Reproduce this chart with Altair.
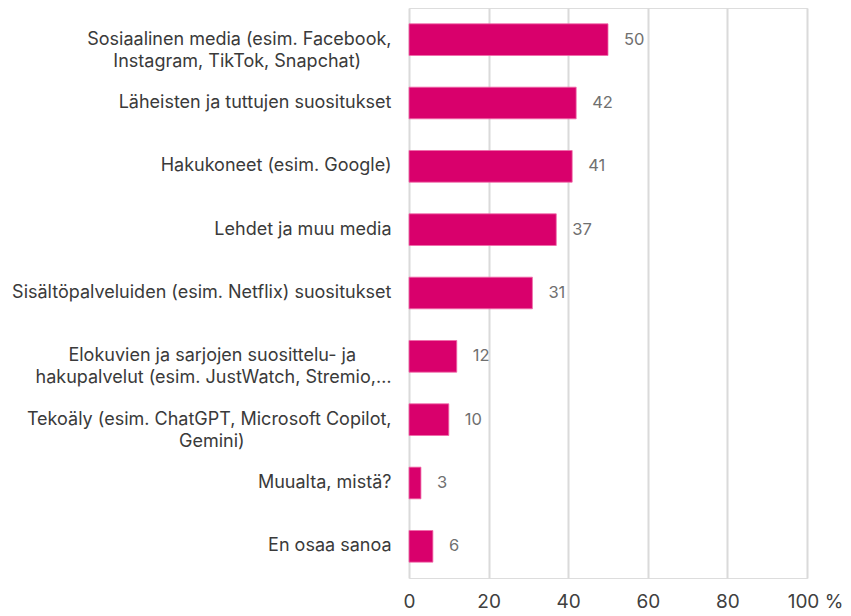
import altair as alt
import pandas as pd

categories = [
    "Sosiaalinen media (esim. Facebook, Instagram, TikTok, Snapchat)",
    "Läheisten ja tuttujen suositukset",
    "Hakukoneet (esim. Google)",
    "Lehdet ja muu media",
    "Sisältöpalveluiden (esim. Netflix) suositukset",
    "Elokuvien ja sarjojen suosittelu- ja hakupalvelut (esim. JustWatch, Stremio,…",
    "Tekoäly (esim. ChatGPT, Microsoft Copilot, Gemini)",
    "Muualta, mistä?",
    "En osaa sanoa",
]
# how the long labels wrap in the reference
wrapped = {
    "Sosiaalinen media (esim. Facebook, Instagram, TikTok, Snapchat)":
        ["Sosiaalinen media (esim. Facebook,", "Instagram, TikTok, Snapchat)"],
    "Elokuvien ja sarjojen suosittelu- ja hakupalvelut (esim. JustWatch, Stremio,…":
        ["Elokuvien ja sarjojen suosittelu- ja", "hakupalvelut (esim. JustWatch, Stremio,…"],
    "Tekoäly (esim. ChatGPT, Microsoft Copilot, Gemini)":
        ["Tekoäly (esim. ChatGPT, Microsoft Copilot,", "Gemini)"],
}
values = [50, 42, 41, 37, 31, 12, 10, 3, 6]
x_ticks = [0, 20, 40, 60, 80, 100]

df = pd.DataFrame({"category": categories, "value": values})

FONT = "Inter"
NB = "\u00a0"
ZW = "\u200b"
# trailing no-break spaces so that the wrapped lines look centred under one another
pad_counts = {
    "Sosiaalinen media (esim. Facebook, Instagram, TikTok, Snapchat)": [0, 6],
    "Elokuvien ja sarjojen suosittelu- ja hakupalvelut (esim. JustWatch, Stremio,…": [7, 0],
    "Tekoäly (esim. ChatGPT, Microsoft Copilot, Gemini)": [0, 29],
}


def js_str(s):
    return "'" + s.replace("\\", "\\\\").replace("'", "\\'") + "'"


def padded(line, n):
    return line + (NB * n + ZW if n else "")


expr = "datum.label"
for full, lines in wrapped.items():
    pads = pad_counts[full]
    arr = "[" + ", ".join(js_str(padded(l, p)) for l, p in zip(lines, pads)) + "]"
    expr = f"datum.label == {js_str(full)} ? {arr} : ({expr})"

base = alt.Chart(df).encode(
    y=alt.Y(
        "category:N",
        sort=categories,
        scale=alt.Scale(paddingInner=0.5, paddingOuter=0.25),
        axis=alt.Axis(
            title=None,
            labelExpr=expr,
            labelFontSize=18,
            labelColor="#3a3a3a",
            labelPadding=18,
            labelLimit=0,
            labelLineHeight=22,
            ticks=False,
            domain=False,
            labelFont=FONT,
        ),
    )
)

bars = base.mark_bar(color="#d9006c", stroke="#f06aa8", strokeWidth=0.8).encode(
    x=alt.X(
        "value:Q",
        scale=alt.Scale(domain=[0, 100]),
        axis=alt.Axis(
            values=x_ticks,
            title=None,
            grid=True,
            gridColor="#dadada",
            gridWidth=2,
            domain=False,
            ticks=False,
            labelFontSize=19,
            labelColor="#404040",
            labelPadding=14,
            labelFont=FONT,
            labelFlush=False,
            labelExpr="datum.value == 100 ? '100 %' : datum.label",
            labelOffset={"condition": {"test": "datum.value == 100", "value": 8}, "value": 0},
        ),
    )
)

labels = base.mark_text(
    align="left", baseline="middle", dx=16, fontSize=16.5, color="#707070", font=FONT
).encode(x="value:Q", text="value:Q")

chart = (
    (bars + labels)
    .properties(
        width=398,
        height=570,
        autosize=alt.AutoSizeParams(type="none"),
        padding={"left": 401, "top": 0, "right": 36, "bottom": 38},
    )
    .configure_view(stroke=None)
    .configure(font=FONT)
)

chart.save("out.html", embed_options={"renderer": "svg", "actions": False})
